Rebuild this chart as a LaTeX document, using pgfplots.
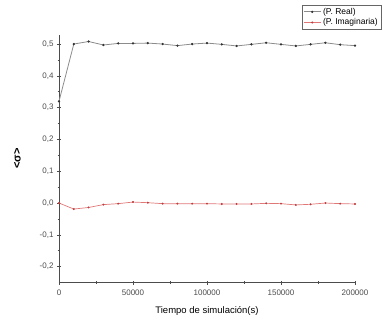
\documentclass[border=0pt]{standalone}
\usepackage{pgfplots}
\pgfplotsset{compat=1.18}
\usepackage{fontspec}
\setmainfont{Liberation Sans}
\definecolor{realline}{RGB}{140,140,140}
\definecolor{imagline}{RGB}{225,120,120}
\definecolor{imagmark}{RGB}{190,60,60}
\begin{document}
\begin{tikzpicture}[x=1pt,y=1pt]
\useasboundingbox (-59,-42.5) rectangle (324,282.5);
\begin{axis}[
  scale only axis, width=296pt, height=248pt,
  xmin=0, xmax=200000, ymin=-0.25, ymax=0.53,
  axis lines*=left,
  axis line style={black!70, line width=0.8pt},
  tick align=center,
  major tick length=4pt, minor tick length=2.5pt,
  tick style={black!70, line width=0.6pt},
  xtick={0,50000,100000,150000,200000},
  xticklabels={0,50000,100000,150000,200000},
  minor xtick={25000,75000,125000,175000},
  ytick={-0.2,-0.1,0,0.1,0.2,0.3,0.4,0.5},
  minor ytick={-0.15,-0.05,0.05,0.15,0.25,0.35,0.45},
  scaled x ticks=false,
  yticklabel style={/pgf/number format/.cd, fixed, fixed zerofill, precision=1, use comma},
  /pgf/number format/assume math mode=true,
  ticklabel style={font=\fontsize{8}{9}\selectfont, text=black!70},
  xticklabel style={yshift=-2pt},
  xlabel={Tiempo de simulación(s)},
  ylabel={\textless σ\textgreater},
  xlabel style={font=\fontsize{9.5}{11}\selectfont, yshift=-4pt},
  ylabel style={font=\fontsize{11}{12}\selectfont\bfseries, yshift=12pt},
  legend style={at={(1.088,1.12)}, anchor=north east, draw=black!60, line width=0.5pt,
    font=\fontsize{8.5}{10}\selectfont, inner sep=1pt, row sep=-1pt,
    legend cell align=left},
  clip=false,
]
\addplot[color=realline, line width=0.8pt, mark=*, mark size=0.7pt,
  mark options={fill=black!80, draw=black!80}] coordinates {
(0,0.32) (10000,0.50) (20000,0.508) (30000,0.497) (40000,0.502) (50000,0.502)
(60000,0.503) (70000,0.500) (80000,0.495) (90000,0.500) (100000,0.503)
(110000,0.499) (120000,0.494) (130000,0.499) (140000,0.504) (150000,0.499)
(160000,0.494) (170000,0.499) (180000,0.504) (190000,0.498) (200000,0.495)
};
\addlegendentry{(P. Real)}
\addplot[color=imagline, line width=0.7pt, mark=*, mark size=0.6pt,
  mark options={fill=imagmark, draw=imagmark}] coordinates {
(0,0.0) (10000,-0.019) (20000,-0.014) (30000,-0.005) (40000,-0.002) (50000,0.003)
(60000,0.001) (70000,-0.002) (80000,-0.002) (90000,-0.002) (100000,-0.002)
(110000,-0.003) (120000,-0.003) (130000,-0.003) (140000,-0.001) (150000,-0.002)
(160000,-0.006) (170000,-0.004) (180000,0.000) (190000,-0.002) (200000,-0.003)
};
\addlegendentry{(P. Imaginaria)}
\end{axis}
\end{tikzpicture}
\end{document}
